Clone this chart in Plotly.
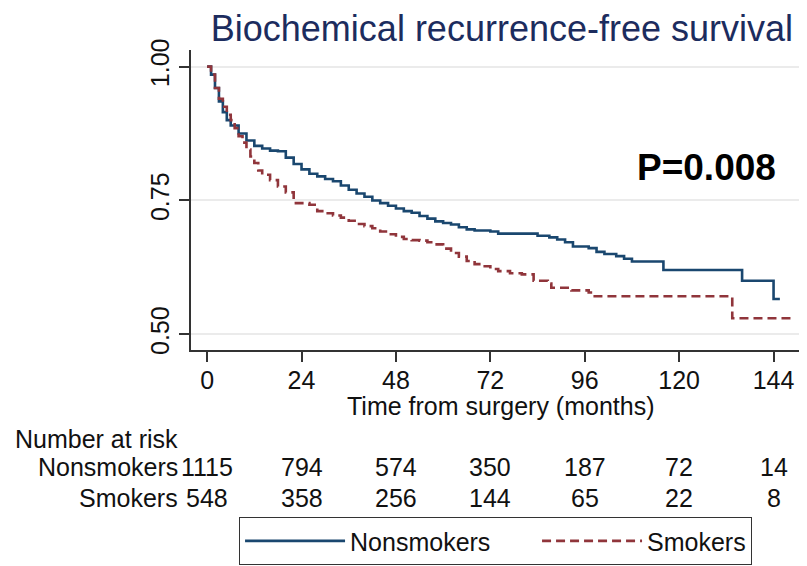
"""
Biochemical recurrence-free survival, Kaplan-Meier style plot
"""
import plotly.graph_objects as go

# Kaplan-Meier estimates (months, survival)
non_t = [0, 1, 2, 3, 4, 5, 6, 8, 10, 12, 14, 16, 18, 20, 22, 24, 26, 28, 30,
         32, 34, 36, 38, 40, 42, 44, 46, 48, 50, 52, 54, 56, 58, 60, 62, 64,
         66, 68, 72, 74, 84, 87, 89, 91, 93, 97, 99, 101, 104, 106, 108, 116,
         136, 144, 145.6]
non_s = [1.0, 0.985, 0.96, 0.935, 0.915, 0.90, 0.89, 0.875, 0.862, 0.852,
         0.847, 0.843, 0.842, 0.83, 0.818, 0.808, 0.80, 0.795, 0.79, 0.786,
         0.778, 0.77, 0.763, 0.757, 0.75, 0.745, 0.74, 0.735, 0.73, 0.727,
         0.721, 0.716, 0.711, 0.708, 0.705, 0.70, 0.696, 0.694, 0.692, 0.688,
         0.684, 0.681, 0.677, 0.672, 0.664, 0.661, 0.654, 0.65, 0.646, 0.641,
         0.636, 0.62, 0.60, 0.566, 0.566]

smk_t = [0, 1, 2, 3, 4, 5, 6, 7, 8, 9, 10, 11, 12, 13, 14, 16, 18, 20, 22,
         26, 28, 30, 32, 34, 36, 38, 40, 42, 44, 46, 48, 50, 52, 54, 56, 58,
         60, 62, 64, 66, 68, 70, 72, 74, 77, 80, 83, 86.6, 87.5, 92.6, 97,
         98.1, 133.5, 149.5]
smk_s = [1.0, 0.985, 0.96, 0.94, 0.925, 0.91, 0.90, 0.885, 0.87, 0.858, 0.845,
         0.832, 0.82, 0.806, 0.798, 0.788, 0.776, 0.765, 0.745, 0.742, 0.73,
         0.726, 0.722, 0.718, 0.712, 0.706, 0.702, 0.698, 0.692, 0.687, 0.682,
         0.678, 0.676, 0.675, 0.672, 0.668, 0.66, 0.652, 0.645, 0.637, 0.631,
         0.627, 0.622, 0.618, 0.614, 0.612, 0.60, 0.595, 0.587, 0.582, 0.578,
         0.571, 0.53, 0.53]

# number at risk table
risk_months = [0, 24, 48, 72, 96, 120, 144]
risk_non = [1115, 794, 574, 350, 187, 72, 14]
risk_smk = [548, 358, 256, 144, 65, 22, 8]

y_ticks = [0.50, 0.75, 1.00]
p_label = "P=0.008"

FONT = "Liberation Sans, Arial, sans-serif"
NAVY = "#1a476f"
MAROON = "#90353b"
NBSP = "\u00a0"

fig = go.Figure()
# a few no-break spaces widen the first legend entry like Stata's legend
fig.add_trace(go.Scatter(
    x=non_t, y=non_s, name="Nonsmokers" + NBSP * 6, mode="lines",
    line=dict(color=NAVY, width=2.6, shape="hv")))
fig.add_trace(go.Scatter(
    x=smk_t, y=smk_s, name="Smokers", mode="lines",
    line=dict(color=MAROON, width=2.6, shape="hv", dash="9px,5px")))

annotations = [
    dict(x=127, y=0.8115, xref="x", yref="y", text="<b>%s</b>" % p_label,
         showarrow=False, font=dict(size=37, color="black")),
    dict(x=0.503, y=-0.186, xref="paper", yref="paper", yanchor="middle",
         text="Time from surgery (months)", showarrow=False),
    dict(x=-0.289, y=-0.297, xref="paper", yref="paper", xanchor="left",
         yanchor="middle", text="Number at risk", showarrow=False),
]
for name, counts, ypos in [("Nonsmokers", risk_non, -0.391),
                           ("Smokers", risk_smk, -0.492)]:
    annotations.append(dict(x=-0.018, y=ypos, xref="paper", yref="paper",
                            xanchor="right", yanchor="middle", text=name,
                            showarrow=False))
    for m, n in zip(risk_months, counts):
        annotations.append(dict(x=m, y=ypos, xref="x", yref="paper",
                                xanchor="center", yanchor="middle",
                                text=str(n), showarrow=False))

# the page body has an 8px margin, so the figure is 8px smaller each way
fig.update_layout(
    width=799, height=558,
    margin=dict(l=183, r=0, t=42, b=216, autoexpand=False),
    paper_bgcolor="white", plot_bgcolor="white",
    font=dict(family=FONT, size=25, color="#111"),
    title=dict(text="Biochemical recurrence-free survival",
               x=0.9825, xanchor="right", xref="container",
               y=0.964, yanchor="middle", yref="container",
               font=dict(size=36, color="#1c2c5e")),
    xaxis=dict(range=[-4.1, 152.5], tickvals=risk_months,
               ticks="outside", ticklen=10, tickwidth=1.5, tickcolor="#333",
               ticklabelstandoff=-3, automargin=False,
               showline=True, linecolor="#333", linewidth=1.5,
               showgrid=False, zeroline=False),
    yaxis=dict(range=[0.4707, 1.031], tickvals=y_ticks,
               ticktext=["%.2f" % v for v in y_ticks], tickangle=-90,
               ticks="outside", ticklen=10, tickwidth=1.5, tickcolor="#333",
               automargin=False,
               showline=True, linecolor="#333", linewidth=1.5,
               showgrid=True, gridcolor="#ebebeb", gridwidth=1.5,
               zeroline=False),
    legend=dict(orientation="h", x=0.078, xanchor="left", y=-0.557,
                yanchor="top", bordercolor="#333", borderwidth=1,
                itemwidth=100, font=dict(size=25)),
    annotations=annotations,
)

fig.write_html("out.html")
